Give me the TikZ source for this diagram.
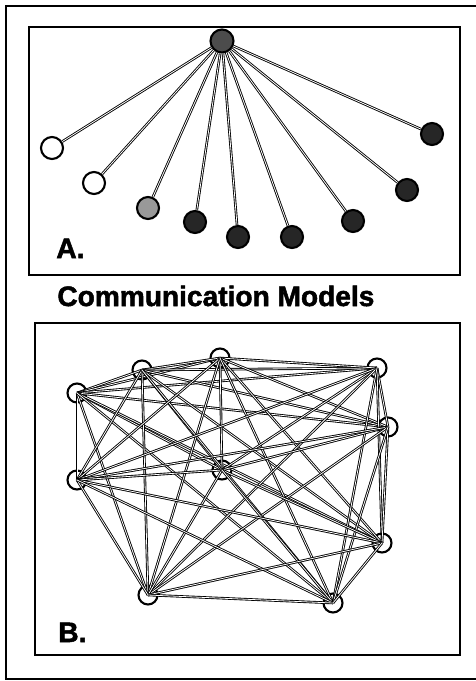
\documentclass[tikz,border=0pt]{standalone}
\usepackage{fontspec}
\setsansfont{Liberation Sans}[BoldFeatures={FakeBold=1.8}]
\tikzstyle{hub}=[draw,circle,line width=1.2pt,fill=black!70,inner sep=0pt,minimum size=.46cm]
\tikzstyle{leaf}=[draw,circle,line width=1.2pt,inner sep=0pt,minimum size=.44cm]
\tikzstyle{peer}=[draw,circle,line width=1.2pt,inner sep=0pt,minimum size=.38cm]
\tikzstyle{link}=[double,double distance=.45pt,line width=.5pt]
\tikzstyle{panel}=[draw,line width=.8pt]
\tikzstyle{tag}=[font=\sffamily\bfseries\fontsize{16}{19}\selectfont,anchor=base west,inner sep=0pt]

\begin{document}
\begin{tikzpicture}[x=0.02cm, y=-0.02cm]
  \useasboundingbox (0,0) rectangle (476,681);
  \draw[line width=1.6pt] (480,6) -- (6,6) -- (6,679) -- (480,679);

  % A: one centre, many receivers
  \draw[panel] (29,27) rectangle (460,275);
  \node[hub]                    (hub) at (222,41)  {};
  \node[leaf, fill=white]       (a1)  at (52,148)  {};
  \node[leaf, fill=white]       (a2)  at (94,183)  {};
  \node[leaf, fill=black!40]    (a3)  at (148,208) {};
  \node[leaf, fill=black!85]    (a4)  at (195,222) {};
  \node[leaf, fill=black!85]    (a5)  at (238,237) {};
  \node[leaf, fill=black!85]    (a6)  at (292,237) {};
  \node[leaf, fill=black!85]    (a7)  at (353,221) {};
  \node[leaf, fill=black!85]    (a8)  at (407,190) {};
  \node[leaf, fill=black!85]    (a9)  at (432,134) {};
  \foreach \n in {a1,a2,a3,a4,a5,a6,a7,a8,a9}
    \draw[link] (hub) -- (\n);
  \node[tag] (labA) at (56,258) {A.};

  \node[tag] (title) at (57,306) {Communication Models};

  % B: everyone talks to everyone
  \draw[panel] (35,323) rectangle (460,655);
  \node[peer] (b1)  at (77,393)  {};
  \node[peer] (b2)  at (142,370) {};
  \node[peer] (b3)  at (220,358) {};
  \node[peer] (b4)  at (377,368) {};
  \node[peer] (b5)  at (388,427) {};
  \node[peer] (b6)  at (222,470) {};
  \node[peer] (b7)  at (77,480)  {};
  \node[peer] (b8)  at (382,543) {};
  \node[peer] (b9)  at (148,595) {};
  \node[peer] (b10) at (333,603) {};
  \foreach \i [evaluate=\i as \k using int(\i+1)] in {1,...,9}
    \foreach \j in {\k,...,10}
      \draw[link] (b\i.center) -- (b\j.center);
  \node[tag] (labB) at (58,642) {B.};
\end{tikzpicture}
\end{document}
